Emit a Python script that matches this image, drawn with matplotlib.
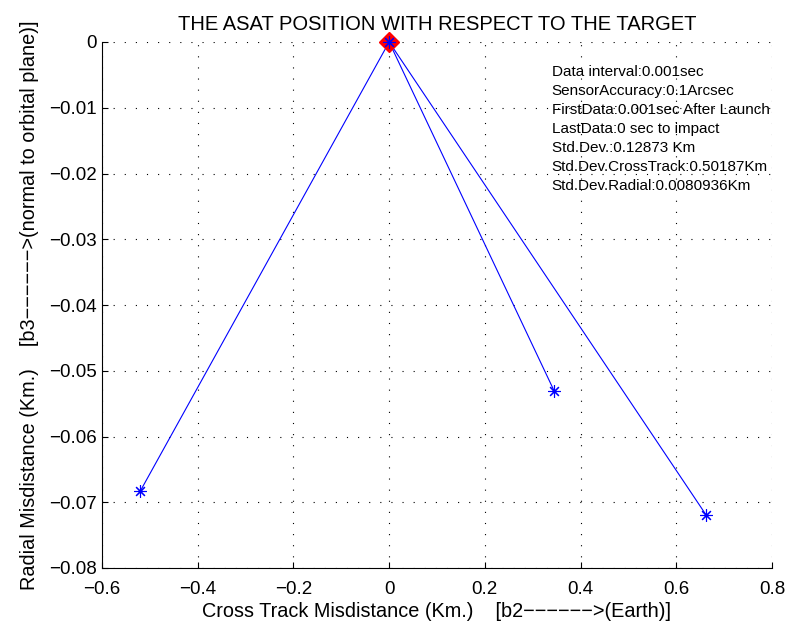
import numpy as np
import matplotlib.pyplot as plt

plt.rcParams['font.family'] = ['Liberation Sans', 'DejaVu Sans']

# final miss distance of each run (Km); every run starts at the target (0, 0)
end_cross_track = [-0.52, 0.345, 0.662]
end_radial = [-0.0683, -0.0531, -0.0719]

target_x = [0.0]
target_y = [0.0]

x_ticks = [-0.6, -0.4, -0.2, 0, 0.2, 0.4, 0.6, 0.8]
x_tick_labels = ['\u22120.6', '\u22120.4', '\u22120.2', '0', '0.2', '0.4', '0.6', '0.8']
y_ticks = [0, -0.01, -0.02, -0.03, -0.04, -0.05, -0.06, -0.07, -0.08]
y_tick_labels = ['0', '\u22120.01', '\u22120.02', '\u22120.03', '\u22120.04',
                 '\u22120.05', '\u22120.06', '\u22120.07', '\u22120.08']

info_lines = [
    'Data interval:0.001sec',
    'SensorAccuracy:0.1Arcsec',
    'FirstData:0.001sec After Launch',
    'LastData:0 sec to impact',
    'Std.Dev.:0.12873 Km',
    'Std.Dev.CrossTrack:0.50187Km',
    'Std.Dev.Radial:0.0080936Km',
]

fig = plt.figure(figsize=(7.92, 6.27), dpi=100)
ax = fig.add_axes([102 / 792, 1 - 568 / 627, 670 / 792, 526 / 627])

asterisk = (8, 2, 0)
for xe, ye in zip(end_cross_track, end_radial):
    ax.plot([target_x[0], xe], [target_y[0], ye], '-', color='blue',
            linewidth=0.8, zorder=2)
# the target sits on the top edge of the axes, so let its marker spill over
ax.plot(target_x, target_y, 'D', color='red', markersize=10, zorder=3, clip_on=False)
ax.plot(target_x + end_cross_track, target_y + end_radial, linestyle='none',
        color='blue', marker=asterisk, markersize=9, markeredgewidth=0.8,
        zorder=4, clip_on=False)

ax.set_xlim(-0.6, 0.8)
ax.set_ylim(-0.08, 0)
ax.set_xticks(x_ticks)
ax.set_xticklabels(x_tick_labels)
ax.set_yticks(y_ticks)
ax.set_yticklabels(y_tick_labels)

ax.grid(True, color='black', linestyle=(0, (1, 9)), linewidth=0.8)
for side in ['top', 'right']:
    ax.spines[side].set_visible(False)
for side in ['left', 'bottom']:
    ax.spines[side].set_linewidth(0.8)
ax.tick_params(direction='in', length=4, width=0.8, labelsize=13.5,
               top=False, right=False)
ax.tick_params(axis='x', pad=9)
ax.tick_params(axis='y', pad=4)

dash = '\u2212' * 6
ax.set_title('THE ASAT POSITION WITH RESPECT TO THE TARGET', fontsize=14.5, pad=9)
ax.set_xlabel('Cross Track Misdistance (Km.)    [b2' + dash + '>(Earth)]',
              fontsize=14.3, labelpad=3)
ax.set_ylabel('Radial Misdistance (Km.)    [b3' + dash + '>(normal to orbital plane)]',
              fontsize=14.3, labelpad=7)

ax.text(0.34, -0.0035, '\n'.join(info_lines), fontsize=11, ha='left', va='top',
        linespacing=1.45)

fig.savefig('out.png', dpi=100)
